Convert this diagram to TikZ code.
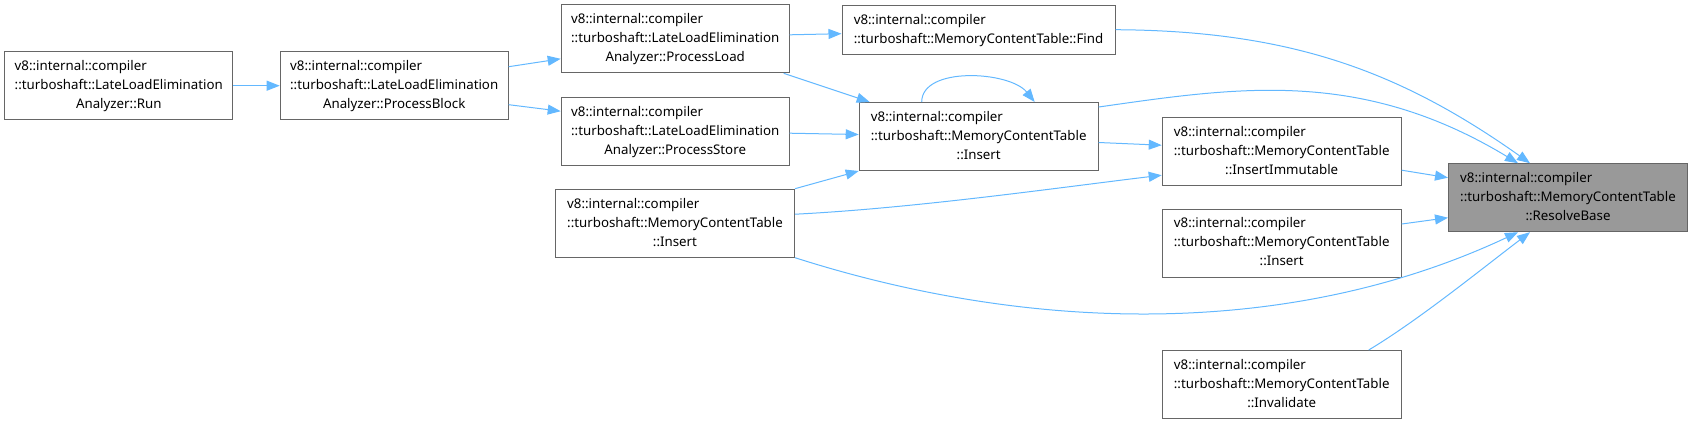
\documentclass[tikz,border=0pt]{standalone}
\usepackage{fontspec}
\setmainfont{Noto Sans}
\usepackage{tikz}
\usetikzlibrary{arrows.meta}
\definecolor{edgeblue}{HTML}{63B8FF}
\definecolor{boxgrey}{HTML}{666666}
\definecolor{rootfill}{HTML}{999999}
\tikzset{
  fnbox/.style={rectangle, draw=boxgrey, fill=white, line width=1pt, inner sep=0pt, font=\fontsize{13.3}{19}\selectfont},
  llebox/.style={fnbox, minimum width=228pt, minimum height=68pt},
  mctbox/.style={fnbox, minimum width=239pt, minimum height=68pt},
  rootbox/.style={mctbox, fill=rootfill},
  callarr/.style={draw=edgeblue, line width=1pt, -{Triangle[length=13pt, width=10pt]}},
}
\newcommand{\fnlabel}[3]{\begin{tabular}{@{}l@{}}#1\\#2\\\multicolumn{1}{@{}c@{}}{#3}\end{tabular}}

\begin{document}
\begin{tikzpicture}[x=1pt, y=-1pt]
\useasboundingbox (0,0) rectangle (1693,424);
\node[llebox] (run) at (118.8,85.7) {\fnlabel{v8::internal::compiler}{::turboshaft::LateLoadElimination}{Analyzer::Run}};
\node[llebox] (block) at (394.2,85.7) {\fnlabel{v8::internal::compiler}{::turboshaft::LateLoadElimination}{Analyzer::ProcessBlock}};
\node[llebox] (load) at (675.2,38.8) {\fnlabel{v8::internal::compiler}{::turboshaft::LateLoadElimination}{Analyzer::ProcessLoad}};
\node[llebox] (store) at (675.2,131.2) {\fnlabel{v8::internal::compiler}{::turboshaft::LateLoadElimination}{Analyzer::ProcessStore}};
\node[mctbox] (insleft) at (675,223.2) {\fnlabel{v8::internal::compiler}{::turboshaft::MemoryContentTable}{::Insert}};
\node[fnbox, minimum width=273pt, minimum height=49pt] (find) at (978.5,29.7) {\begin{tabular}{@{}l@{}}v8::internal::compiler\\::turboshaft::MemoryContentTable::Find\end{tabular}};
\node[mctbox] (insmid) at (978.7,136.5) {\fnlabel{v8::internal::compiler}{::turboshaft::MemoryContentTable}{::Insert}};
\node[mctbox] (immut) at (1281.7,151.2) {\fnlabel{v8::internal::compiler}{::turboshaft::MemoryContentTable}{::InsertImmutable}};
\node[mctbox] (insright) at (1281.7,243) {\fnlabel{v8::internal::compiler}{::turboshaft::MemoryContentTable}{::Insert}};
\node[mctbox] (inval) at (1281.7,384.5) {\fnlabel{v8::internal::compiler}{::turboshaft::MemoryContentTable}{::Invalidate}};
\node[rootbox] (resolve) at (1568,197.7) {\fnlabel{v8::internal::compiler}{::turboshaft::MemoryContentTable}{::ResolveBase}};

\draw[callarr] (run) -- (block);
\draw[callarr] ([yshift=19pt]block.east) -- ([yshift=-20pt]load.west);
\draw[callarr] ([yshift=-19pt]block.east) -- ([yshift=20pt]store.west);
\draw[callarr] ([yshift=4pt]load.east) -- ([yshift=-4pt]find.west);
\draw[callarr] ([xshift=-6pt]load.south east) -- ([xshift=11pt]insmid.north west);
\draw[callarr] ([yshift=-2pt]store.east) -- ([yshift=2pt]insmid.west);
\draw[callarr] (insleft.north east) -- (insmid.south west);
\draw[callarr] ([xshift=-57pt]insmid.north) .. controls +(0,-36) and +(-25,-31) .. ([xshift=56pt]insmid.north);
\draw[callarr] ([yshift=-6pt]insmid.east) -- ([yshift=6pt]immut.west);
\draw[callarr] ([yshift=9pt]insleft.east) .. controls +(120,-6) and +(-100,12) .. ([yshift=-24pt]immut.west);
\draw[callarr] ([yshift=-5pt]insmid.north east) .. controls +(140,-20) and +(-157,-95) .. ([xshift=-50pt]resolve.north);
\draw[callarr] (find.east) .. controls +(175,1) and +(-130,-92) .. ([xshift=-38pt]resolve.north);
\draw[callarr] ([yshift=-19pt]immut.east) -- ([yshift=20pt]resolve.west);
\draw[callarr] ([yshift=19pt]insright.east) -- ([yshift=-20pt]resolve.west);
\draw[callarr] (insleft.south east) .. controls +(238,76) and +(-226,106) .. ([xshift=-50pt]resolve.south);
\draw[callarr] ([xshift=-33pt]inval.north east) .. controls +(50,-30) and +(-50,38) .. ([xshift=-38pt]resolve.south);
\end{tikzpicture}
\end{document}
